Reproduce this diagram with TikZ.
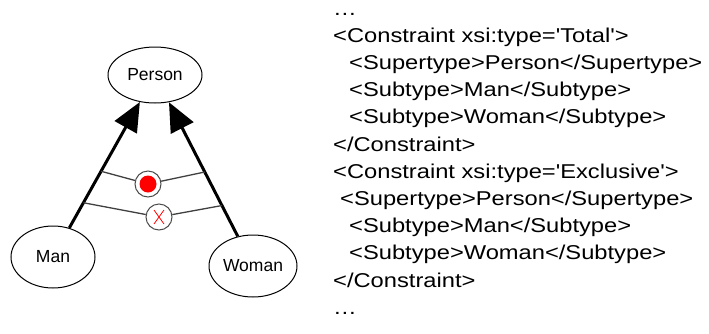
\documentclass[tikz,border=0pt]{standalone}
\usepackage{fontspec}
\usetikzlibrary{shapes.geometric}
\usetikzlibrary{arrows.meta}
\newfontfamily\umlfont{Liberation Sans}
\newfontfamily\xmlfont{Liberation Sans}[FakeStretch=1.185]

\begin{document}
\begin{tikzpicture}[x=1pt, y=-1pt,
		class/.style = {shape=ellipse, draw, line width=1pt, inner sep=0pt, font=\umlfont\fontsize{17.5}{20}\selectfont},
		isa/.style = {-{Triangle[length=29pt, width=25pt]}, line width=3pt},
		gen/.style = {shape=circle, draw=black!70, line width=1pt, fill=white, minimum size=26pt, inner sep=0pt},
		genline/.style = {draw=black!75, line width=1.3pt},
		xml/.style = {anchor=base west, inner sep=0pt, font=\xmlfont\fontsize{20}{27}\selectfont}]
		
		\useasboundingbox (0,0) rectangle (709,333);
		
		\node (person) at (155,75) [class, minimum width=94pt, minimum height=56pt] {Person};
		\node (man) at (53,257) [class, minimum width=84pt, minimum height=62pt] {Man};
		\node (woman) at (253,266) [class, minimum width=88pt, minimum height=62pt] {Woman};
		
		\draw[isa] (man) -- (person);
		\draw[isa] (woman) -- (person);
		
		% ends of the two constraint lines on each arrow
		\path (man) -- (person) coordinate[pos=0.45] (tl) coordinate[pos=0.2] (xl);
		\path (woman) -- (person) coordinate[pos=0.48] (tr) coordinate[pos=0.23] (xr);
		
		\node (total) at (148,184) [gen] {};
		\node (excl) at (159,217) [gen] {};
		\draw[genline] (tl) -- (total) -- (tr);
		\draw[genline] (xl) -- (excl) -- (xr);
		\fill[red] (total) circle (8.5);
		\draw[red, line width=0.8pt] (excl) +(-5,-7) -- +(5,7) (excl) +(-5,7) -- +(5,-7);
		
		% the xml listing
		\foreach \ind/\txt [count=\i from 0] in {
			0/{\dots},
			0/{<Constraint xsi:type='Total'>},
			16/{<Supertype>Person</Supertype>},
			16/{<Subtype>Man</Subtype>},
			16/{<Subtype>Woman</Subtype>},
			0/{</Constraint>},
			0/{<Constraint xsi:type='Exclusive'>},
			7/{<Supertype>Person</Supertype>},
			16/{<Subtype>Man</Subtype>},
			16/{<Subtype>Woman</Subtype>},
			0/{</Constraint>},
			0/{\dots}}
			\node (l\i) at (333+\ind, 15+27.2*\i) [xml] {\txt};
	\end{tikzpicture}
\end{document}
